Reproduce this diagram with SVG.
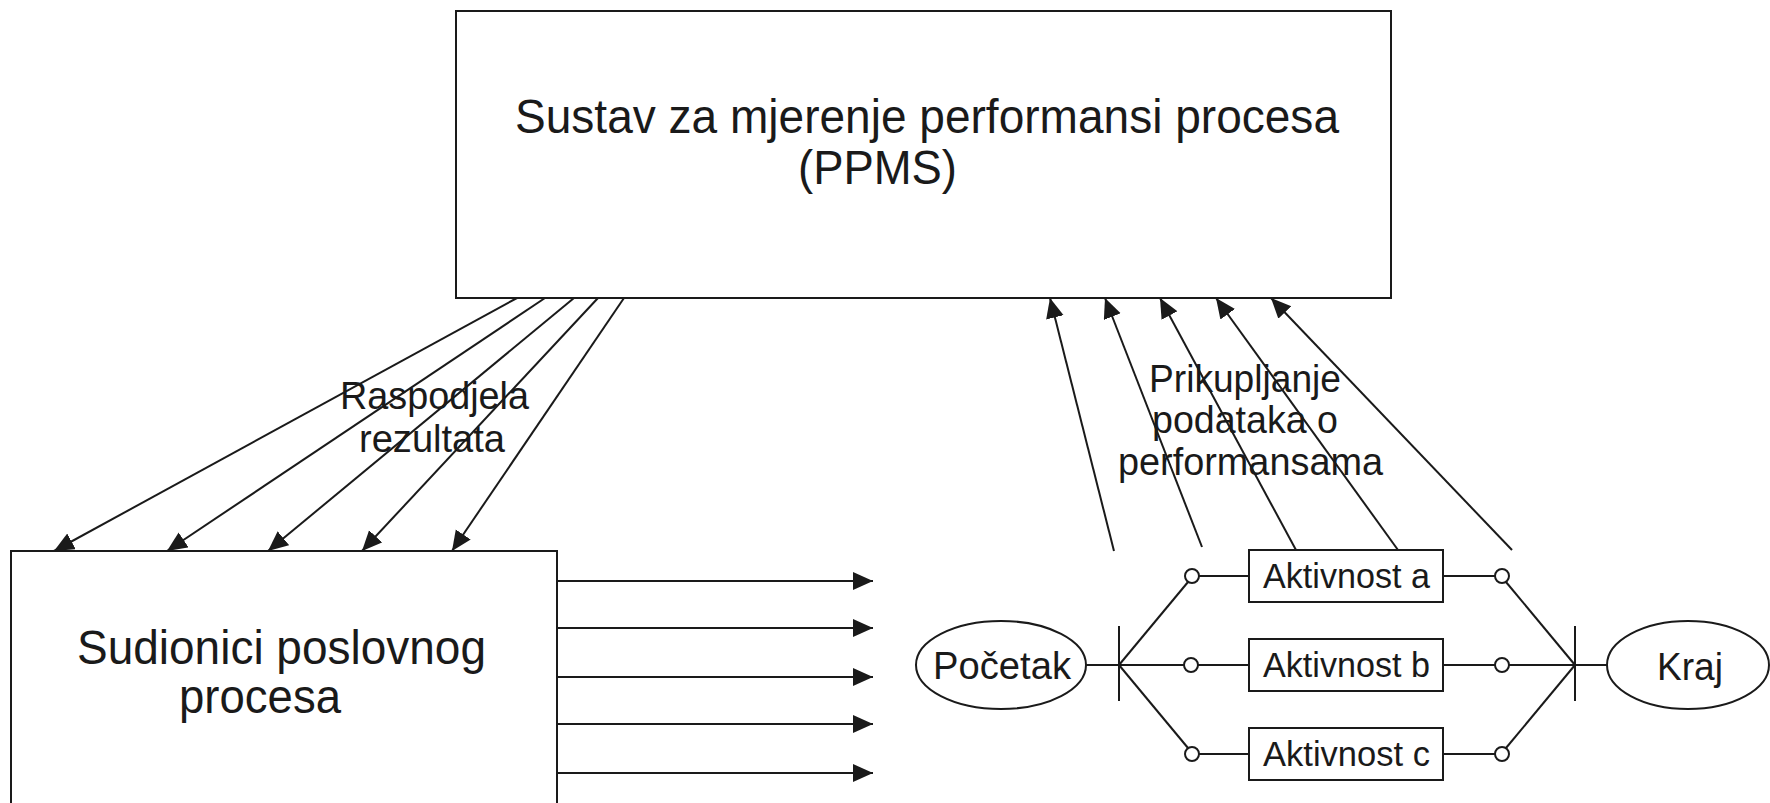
<svg xmlns="http://www.w3.org/2000/svg" width="1770" height="803" viewBox="0 0 1770 803">
<style>
.box{fill:#fff;stroke:#1a1a1a;stroke-width:2}
.ln{fill:none;stroke:#1a1a1a;stroke-width:2}
.arr{fill:none;stroke:#1a1a1a;stroke-width:2;marker-end:url(#ah)}
.t{font-family:"Liberation Sans",Arial,sans-serif;fill:#1a1a1a}
.big{font-size:48px}
.mid{font-size:38px}
.sm{font-size:35px}
.dot{fill:#fff;stroke:#1a1a1a;stroke-width:2}
</style>
<defs>
<marker id="ah" markerUnits="userSpaceOnUse" markerWidth="22" markerHeight="20" refX="20" refY="9" orient="auto">
<path d="M0,0 L20,9 L0,18 z" fill="#1a1a1a"/>
</marker>
</defs>
<rect width="1770" height="803" fill="#fff"/>
<g id="connectors">
<line class="arr" x1="517" y1="298" x2="54" y2="551"/>
<line class="arr" x1="545" y1="298" x2="167" y2="551"/>
<line class="arr" x1="574" y1="298" x2="268" y2="551"/>
<line class="arr" x1="598" y1="298" x2="362" y2="551"/>
<line class="arr" x1="624" y1="298" x2="452" y2="551"/>
<line class="arr" x1="557" y1="581" x2="873" y2="581"/>
<line class="arr" x1="557" y1="628" x2="873" y2="628"/>
<line class="arr" x1="557" y1="677" x2="873" y2="677"/>
<line class="arr" x1="557" y1="724" x2="873" y2="724"/>
<line class="arr" x1="557" y1="773" x2="873" y2="773"/>
<line class="arr" x1="1114" y1="551" x2="1050" y2="298"/>
<line class="arr" x1="1202" y1="547" x2="1105" y2="298"/>
<line class="arr" x1="1296" y1="550" x2="1160" y2="298"/>
<line class="arr" x1="1398" y1="550" x2="1216" y2="298"/>
<line class="arr" x1="1512" y1="550" x2="1271" y2="298"/>
<line class="ln" x1="1086" y1="665" x2="1184" y2="665"/>
<line class="ln" x1="1119" y1="626" x2="1119" y2="701"/>
<line class="ln" x1="1119" y1="665" x2="1188" y2="582"/>
<line class="ln" x1="1119" y1="665" x2="1188" y2="748"/>
<line class="ln" x1="1199" y1="576" x2="1249" y2="576"/>
<line class="ln" x1="1198" y1="665" x2="1249" y2="665"/>
<line class="ln" x1="1199" y1="754" x2="1249" y2="754"/>
<line class="ln" x1="1443" y1="576" x2="1495" y2="576"/>
<line class="ln" x1="1443" y1="665" x2="1495" y2="665"/>
<line class="ln" x1="1443" y1="754" x2="1495" y2="754"/>
<line class="ln" x1="1509" y1="665" x2="1607" y2="665"/>
<line class="ln" x1="1575" y1="626" x2="1575" y2="701"/>
<line class="ln" x1="1506" y1="582" x2="1575" y2="665"/>
<line class="ln" x1="1506" y1="748" x2="1575" y2="665"/>
<circle class="dot" cx="1192" cy="576" r="7"/>
<circle class="dot" cx="1191" cy="665" r="7"/>
<circle class="dot" cx="1192" cy="754" r="7"/>
<circle class="dot" cx="1502" cy="576" r="7"/>
<circle class="dot" cx="1502" cy="665" r="7"/>
<circle class="dot" cx="1502" cy="754" r="7"/>
</g>
<g id="ppms">
<rect class="box" x="456" y="11" width="935" height="287"/>
<text class="t big" x="515" y="133" textLength="824" lengthAdjust="spacingAndGlyphs">Sustav za mjerenje performansi procesa</text>
<text class="t big" x="798" y="184" textLength="159" lengthAdjust="spacingAndGlyphs">(PPMS)</text>
</g>
<g id="sudionici">
<rect class="box" x="11" y="551" width="546" height="270"/>
<text class="t big" x="77" y="664" textLength="409" lengthAdjust="spacingAndGlyphs">Sudionici poslovnog</text>
<text class="t big" x="179" y="713" textLength="162" lengthAdjust="spacingAndGlyphs">procesa</text>
</g>
<g id="label-raspodjela">
<text class="t mid" x="340" y="409" textLength="189" lengthAdjust="spacingAndGlyphs">Raspodjela</text>
<text class="t mid" x="359" y="452" textLength="146" lengthAdjust="spacingAndGlyphs">rezultata</text>
</g>
<g id="label-prikupljanje">
<text class="t mid" x="1149" y="392" textLength="192" lengthAdjust="spacingAndGlyphs">Prikupljanje</text>
<text class="t mid" x="1152" y="433" textLength="186" lengthAdjust="spacingAndGlyphs">podataka o</text>
<text class="t mid" x="1118" y="475" textLength="265" lengthAdjust="spacingAndGlyphs">performansama</text>
</g>
<g id="pocetak">
<ellipse class="box" cx="1001" cy="665" rx="85" ry="44"/>
<text class="t mid" x="933" y="679" textLength="138" lengthAdjust="spacingAndGlyphs">Početak</text>
</g>
<g id="kraj">
<ellipse class="box" cx="1688" cy="665" rx="81" ry="44"/>
<text class="t mid" x="1657" y="680" textLength="66" lengthAdjust="spacingAndGlyphs">Kraj</text>
</g>
<g id="aktivnost-a">
<rect class="box" x="1249" y="550" width="194" height="52"/>
<text class="t sm" x="1263" y="588" textLength="167" lengthAdjust="spacingAndGlyphs">Aktivnost a</text>
</g>
<g id="aktivnost-b">
<rect class="box" x="1249" y="639" width="194" height="52"/>
<text class="t sm" x="1263" y="677" textLength="167" lengthAdjust="spacingAndGlyphs">Aktivnost b</text>
</g>
<g id="aktivnost-c">
<rect class="box" x="1249" y="728" width="194" height="52"/>
<text class="t sm" x="1263" y="766" textLength="167" lengthAdjust="spacingAndGlyphs">Aktivnost c</text>
</g>
</svg>
